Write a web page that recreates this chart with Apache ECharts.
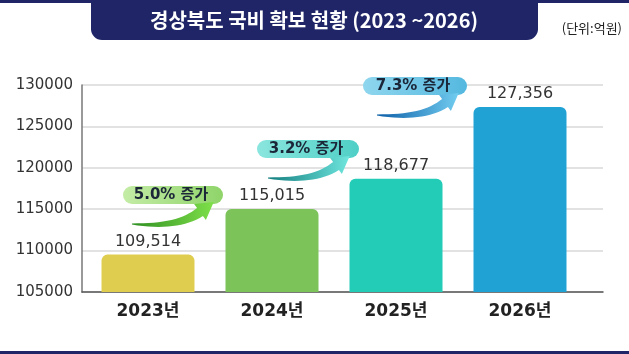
<!DOCTYPE html>
<html>
<head>
<meta charset="utf-8">
<script src="https://cdn.jsdelivr.net/npm/echarts@6/dist/echarts.min.js"></script>
<style>
  html, body { margin: 0; padding: 0; background: #fff; }
  #chart { width: 629px; height: 354px; }
</style>
</head>
<body>
<div id="chart"></div>
<script>
const years = ["2023년", "2024년", "2025년", "2026년"];
const budget = [109514, 115015, 118677, 127356];
const growth = ["5.0% 증가", "3.2% 증가", "7.3% 증가"];
const barColors = ["#dfcd50", "#7cc45a", "#22ccb7", "#21a2d5"];
const yMin = 105000;
const yMax = 130000;
const yStep = 5000;

const navy = "#1f2566";
const font = "DejaVu Sans, 'Noto Sans CJK KR', sans-serif";

// swoosh arrow polygon, tail at (x0, y0)
function arrowPoints(x0, y0) {
  const p0 = [0, 0], c = [46, 4], p2 = [68, -12];
  const upper = [], lower = [];
  const n = 16;
  let lastN = [0, 0];
  for (let i = 0; i <= n; i++) {
    const t = i / n;
    const bx = (1 - t) * (1 - t) * p0[0] + 2 * (1 - t) * t * c[0] + t * t * p2[0];
    const by = (1 - t) * (1 - t) * p0[1] + 2 * (1 - t) * t * c[1] + t * t * p2[1];
    const tx = 2 * (1 - t) * (c[0] - p0[0]) + 2 * t * (p2[0] - c[0]);
    const ty = 2 * (1 - t) * (c[1] - p0[1]) + 2 * t * (p2[1] - c[1]);
    const len = Math.hypot(tx, ty);
    const nx = -ty / len, ny = tx / len;
    const w = 0.6 + 4.4 * Math.pow(t, 0.8);
    upper.push([x0 + bx + nx * w, y0 + by + ny * w]);
    lower.push([x0 + bx - nx * w, y0 + by - ny * w]);
    lastN = [nx, ny];
  }
  const dx = p2[0] - c[0], dy = p2[1] - c[1];
  const dl = Math.hypot(dx, dy);
  const ex = x0 + p2[0], ey = y0 + p2[1];
  const head = [
    [ex + lastN[0] * 10, ey + lastN[1] * 10],
    [ex + dx / dl * 17, ey + dy / dl * 17],
    [ex - lastN[0] * 10, ey - lastN[1] * 10]
  ];
  return upper.concat(head, lower.reverse());
}

const pillSpecs = [
  { x: 123, y: 186, w: 100, light: "#c4eca6", dark: "#8fd46a", a1: "#2f8f22", a2: "#7fe04a", tail: [132, 224] },
  { x: 257, y: 140, w: 102, light: "#8ae6de", dark: "#4fcfc6", a1: "#157f80", a2: "#6fe6de", tail: [268, 178] },
  { x: 363, y: 77, w: 104, light: "#8fd6ee", dark: "#55b8df", a1: "#0d5fa8", a2: "#72cdf0", tail: [377, 115] }
];

const graphics = [
  { type: "rect", left: 0, top: 0, shape: { width: 629, height: 3 }, style: { fill: navy } },
  { type: "rect", left: 91, top: 0, shape: { width: 447, height: 40, r: [0, 0, 11, 11] }, style: { fill: navy } },
  {
    type: "text", x: 314, y: 20,
    style: { text: "경상북도 국비 확보 현황 (2023 ~2026)", fill: "#fff", font: "bold 20px 'Noto Sans CJK KR', sans-serif", textAlign: "center", textVerticalAlign: "middle" }
  },
  {
    type: "text", x: 622, y: 28,
    style: { text: "(단위:억원)", fill: "#222", font: "13px 'Noto Sans CJK KR', sans-serif", textAlign: "right", textVerticalAlign: "middle" }
  },
  { type: "rect", left: 0, top: 351, shape: { width: 629, height: 3 }, style: { fill: navy } }
];

pillSpecs.forEach((p, i) => {
  graphics.push({
    type: "rect",
    shape: { x: p.x, y: p.y, width: p.w, height: 18, r: 9 },
    style: { fill: new echarts.graphic.LinearGradient(0, 0, 1, 0, [{ offset: 0, color: p.light }, { offset: 1, color: p.dark }]) },
    z: 10
  });
  graphics.push({
    type: "text", x: p.x + p.w / 2 - 2, y: p.y + 9.5, z: 12,
    style: { text: growth[i], fill: "#1b2638", font: "bold 15px " + font, textAlign: "center", textVerticalAlign: "middle" }
  });
  graphics.push({
    type: "polygon", z: 11,
    shape: { points: arrowPoints(p.tail[0], p.tail[1]) },
    style: { fill: new echarts.graphic.LinearGradient(0, 0, 1, 0, [{ offset: 0, color: p.a1 }, { offset: 1, color: p.a2 }]) }
  });
});

const chart = echarts.init(document.getElementById("chart"));

chart.setOption({
  animation: false,
  textStyle: { fontFamily: font },
  grid: [
    { left: 82, right: 26, top: 85, bottom: 62 },
    { left: 86, right: 47, top: 85, bottom: 62 }
  ],
  xAxis: [
    {
      type: "category", gridIndex: 0, data: years,
      axisLine: { lineStyle: { color: "#555", width: 1.5 } },
      axisTick: { show: false },
      axisLabel: { show: false }
    },
    {
      type: "category", gridIndex: 1, data: years,
      axisLine: { show: false },
      axisTick: { show: false },
      axisLabel: { color: "#222", fontSize: 17, fontWeight: "bold", margin: 11, fontFamily: font }
    }
  ],
  yAxis: [
    {
      type: "value", gridIndex: 0, min: yMin, max: yMax, interval: yStep,
      axisLine: { show: true, lineStyle: { color: "#777", width: 1.5 } },
      axisTick: { show: false },
      axisLabel: { color: "#333", fontSize: 15, margin: 9, fontFamily: font, formatter: v => String(v) },
      splitLine: { lineStyle: { color: "#d9d9d9", width: 1.5 } }
    },
    {
      type: "value", gridIndex: 1, min: yMin, max: yMax, interval: yStep,
      show: false
    }
  ],
  series: [
    {
      type: "bar", xAxisIndex: 1, yAxisIndex: 1,
      barWidth: 93,
      data: budget.map((v, i) => ({ value: v, itemStyle: { color: barColors[i] } })),
      itemStyle: { borderRadius: [6, 6, 0, 0] },
      label: {
        show: true, position: "top", distance: 5,
        color: "#333", fontSize: 16, fontFamily: font,
        formatter: p => p.value.toLocaleString("en-US")
      }
    }
  ],
  graphic: graphics
});
</script>
</body>
</html>
